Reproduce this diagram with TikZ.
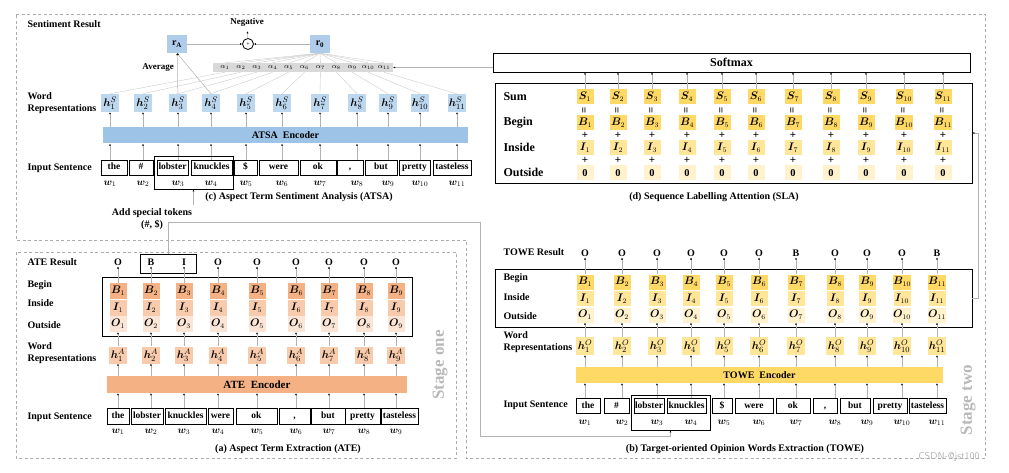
\documentclass[tikz,border=0pt]{standalone}
\usepackage{amsmath,amssymb}
\usepackage{bm}
\usepackage{fontspec}
\setmainfont{Liberation Serif}
\usepackage{tikz}
\usetikzlibrary{arrows.meta, positioning, calc}

\definecolor{atsablue}{HTML}{9DC3E6}
\definecolor{atsamid}{HTML}{AFCDEB}
\definecolor{atsalight}{HTML}{BDD7EE}
\definecolor{alphagray}{HTML}{D9D9D9}
\definecolor{ateB}{HTML}{F4B183}
\definecolor{ateI}{HTML}{F8CBAD}
\definecolor{ateO}{HTML}{FBE5D6}
\definecolor{towB}{HTML}{FFD966}
\definecolor{towI}{HTML}{FFE699}
\definecolor{towO}{HTML}{FFF2CC}

\begin{document}
\begin{tikzpicture}[x=1pt, y=-1pt,
  lbl/.style={anchor=west, align=left, font=\fontsize{10}{12}\selectfont\bfseries},
  captxt/.style={align=center, font=\fontsize{10}{12}\selectfont\bfseries},
  res/.style={inner sep=1pt, font=\fontsize{10}{11}\selectfont\bfseries},
  wordbox/.style={draw, thick, minimum height=15pt, inner sep=0pt, text height=7pt, text depth=2pt,
                  font=\fontsize{9.5}{10}\selectfont\bfseries},
  cell/.style={minimum width=17pt, minimum height=15pt, inner sep=0pt,
               font=\fontsize{10.5}{10.5}\selectfont},
  hcell/.style={minimum width=18pt, minimum height=18pt, inner sep=0pt,
                font=\fontsize{11}{11}\selectfont},
  encbar/.style={minimum height=16pt, inner sep=0pt,
                 font=\fontsize{10}{11}\selectfont\bfseries},
  boxline/.style={draw, thick, inner sep=0pt},
  opsign/.style={inner sep=0pt, font=\fontsize{11}{11}\selectfont\bfseries},
  stageline/.style={draw=gray!65, thick, dash pattern=on 3pt off 2.5pt},
  stagetxt/.style={rotate=90, text=gray!55, font=\fontsize{17}{17}\selectfont\bfseries},
  link/.style={draw=gray!40, line width=0.4pt},
  arr/.style={draw=gray!60, line width=0.5pt, -{Latex[length=2pt,width=2pt,black]}}
]
\useasboundingbox (0,0) rectangle (1009,473);

% stage frames
\draw[stageline] (16,14) -- (985,14) -- (985,458) -- (466,458) -- (466,240) -- (16,240) -- cycle;
\draw[stageline] (16,252) rectangle (456,458);
\node[stagetxt] (stageone) at (440,365) {Stage one};
\node[stagetxt] (stagetwo) at (968,400) {Stage two};

% (c) ATSA
\node[lbl] (sentres) at (24,24) {Sentiment Result};
\node[fill=atsamid, minimum width=20pt, minimum height=18pt, inner sep=0pt] (rA) at (177,44) {$\mathbf{r}_{\mathbf{A}}$};
\node[fill=atsamid, minimum width=20pt, minimum height=18pt, inner sep=0pt] (r0) at (320,44) {$\mathbf{r}_{\mathbf{0}}$};
\node[draw, thick, circle, inner sep=0pt, minimum size=11pt, font=\tiny\bfseries] (negc) at (248,44) {+};
\node[res, font=\fontsize{9}{10}\selectfont\bfseries] (negtxt) at (247,22) {Negative};
\draw[arr] (rA) -- (negc);
\draw[arr] (r0) -- (negc);
\draw[arr, shorten >=4pt] (negc) -- (negtxt);

\node[fill=alphagray, minimum width=180pt, minimum height=9pt, inner sep=0pt] (abar) at (303,67.5) {};
\foreach \i in {1,...,11}
  \node[inner sep=0pt, font=\fontsize{7.5}{8}\selectfont] (al\i) at ({225+15.9*(\i-1)},67.5) {$\alpha_{\i}$};

\foreach \x [count=\i] in {110,143,178,211,246,282,320,357,388,420,457} {
  \node[hcell, fill=atsalight] (hs\i) at (\x,103) {$\bm{h}^{S}_{\i}$};
  \draw[link] (r0.south) -- (al\i |- abar.north);
  \draw[link] (al\i |- abar.south) -- (hs\i.north);
}
\draw[arr] (hs3) -- (rA);
\draw[arr] (hs4.north) -- (rA.south);
\node[res, anchor=east, font=\fontsize{9}{10}\selectfont\bfseries] (avg) at (175,68) {Average};
\node[lbl] (wrs) at (24,103) {Word\\Representations};

\node[encbar, fill=atsablue, minimum width=365pt] (atsaenc) at (285.5,135.5) {ATSA\ \ Encoder};
\node[lbl] (inss) at (24,168) {Input Sentence};
\foreach \x/\c/\w/\t [count=\i] in {114/110/26/the, 141/143/24/{\#}, 172.5/178/31/lobster,
    211.5/211/41/knuckles, 245.5/246/23/{\$}, 278.5/282/39/were, 318/320/36/ok,
    350/357/26/{,}, 381/388/32/but, 414.5/420/31/pretty, 452/457/38/tasteless} {
  \node[wordbox, minimum width=\w pt] (ws\i) at (\x,167.5) {\t};
  \node[font=\fontsize{10}{10}\selectfont] (wsl\i) at (\c,184) {$\bm{w}_{\i}$};
  \draw[arr] (wsl\i |- ws\i.north) -- (wsl\i |- atsaenc.south);
  \draw[arr] (hs\i |- atsaenc.north) -- (hs\i.south);
}
\node[boxline, minimum width=79pt, minimum height=33pt] (asps) at (193.5,172.5) {};
\node[captxt] (capc) at (299,197) {(c) Aspect Term Sentiment Analysis (ATSA)};
\node[captxt] (addtok) at (152,219) {Add special tokens\\(\#, \$)};
\draw[arr] (asps.south |- addtok.north) -- (asps.south);

% (d) SLA
\node[boxline, minimum width=477pt, minimum height=19pt, font=\fontsize{12}{13}\selectfont\bfseries] (smax) at (731.5,62.5) {Softmax};
\draw[arr] (smax.west |- abar.east) -- (abar.east);
\node[boxline, minimum width=477pt, minimum height=100pt] (slabox) at (733.5,133) {};
\node[lbl, font=\fontsize{12}{13}\selectfont\bfseries] (slasum) at (500,97) {Sum};
\node[lbl, font=\fontsize{12}{13}\selectfont\bfseries] (slabeg) at (500,123) {Begin};
\node[lbl, font=\fontsize{12}{13}\selectfont\bfseries] (slains) at (500,147) {Inside};
\node[lbl, font=\fontsize{12}{13}\selectfont\bfseries] (slaout) at (500,172) {Outside};
\foreach \x [count=\i] in {585,618,652,687,722,756,793,831,866,904,943} {
  \node[cell, fill=towB] (slas\i) at (\x,97) {$\bm{S}_{\i}$};
  \node[opsign, rotate=90] (slae\i) at (\x,110) {=};
  \node[cell, fill=towB] (slab\i) at (\x,123) {$\bm{B}_{\i}$};
  \node[opsign] (slap\i) at (\x,135.5) {+};
  \node[cell, fill=towI] (slai\i) at (\x,148) {$\bm{I}_{\i}$};
  \node[opsign] (slaq\i) at (\x,160.5) {+};
  \node[cell, fill=towO] (slao\i) at (\x,173) {$\mathbf{0}$};
  \draw[arr] (slas\i.north) -- (slas\i |- smax.south);
}
\node[captxt] (capd) at (714,197) {(d) Sequence Labelling Attention (SLA)};

% (b) TOWE
\node[lbl] (towres) at (500,252) {TOWE Result};
\node[boxline, minimum width=477pt, minimum height=58pt] (towbox) at (733.5,298) {};
\node[lbl] (towbeg) at (500,278) {Begin};
\node[lbl] (towins) at (500,297) {Inside};
\node[lbl] (towout) at (500,316) {Outside};
\node[lbl] (towwr) at (500,342) {Word\\Representations};
\node[encbar, fill=towB, minimum width=367pt] (towenc) at (759.5,375) {TOWE\ \ Encoder};
\foreach \x/\r [count=\i] in {585/O,622/O,657/O,691/O,724/O,759/O,796/B,835/O,867/O,902/O,937/B} {
  \node[res] (towr\i) at (\x,253) {\r};
  \node[cell, fill=towB] (towb\i) at (\x,282) {$\bm{B}_{\i}$};
  \node[cell, fill=towI] (towi\i) at (\x,298.5) {$\bm{I}_{\i}$};
  \node[cell, fill=towO] (towo\i) at (\x,315) {$\bm{O}_{\i}$};
  \node[hcell, fill=towI] (towh\i) at (\x,346) {$\bm{h}^{O}_{\i}$};
  \draw[arr] (towb\i.north) -- (towr\i.south);
  \draw[arr] (towh\i.north) -- (towo\i.south);
  \draw[arr] (towh\i |- towenc.north) -- (towh\i.south);
}
\node[lbl] (towin) at (500,405.5) {Input Sentence};
\foreach \x/\w/\t [count=\i] in {588/24/the, 616.5/25/{\#}, 649/30/lobster, 686.5/39/knuckles,
    722/20/{\$}, 754/38/were, 793/34/ok, 825/24/{,}, 855/30/but, 890/34/pretty, 927.5/37/tasteless} {
  \node[wordbox, minimum width=\w pt] (tw\i) at (\x,405.5) {\t};
  \node[font=\fontsize{10}{10}\selectfont] (twl\i) at (towh\i |- 0,423) {$\bm{w}_{\i}$};
  \draw[arr] (twl\i |- tw\i.north) -- (twl\i |- towenc.south);
}
\node[boxline, minimum width=79pt, minimum height=35pt] (aspt) at (670.5,412.5) {};
\node[captxt] (capb) at (745,449) {(b) Target-oriented Opinion Words Extraction (TOWE)};

% (a) ATE
\node[lbl] (ateres) at (24,262) {ATE Result};
\node[boxline, minimum width=56pt, minimum height=19pt] (atebi) at (168,263.5) {};
\node[boxline, minimum width=310pt, minimum height=59pt] (atebox) at (257,306.5) {};
\node[lbl] (atebeg) at (24,285) {Begin};
\node[lbl] (ateins) at (24,303) {Inside};
\node[lbl] (ateout) at (24,325) {Outside};
\node[lbl] (atewr) at (24,353) {Word\\Representations};
\node[encbar, fill=ateB, minimum width=300pt, minimum height=17pt, font=\fontsize{11}{12}\selectfont\bfseries] (ateenc) at (257,384.5) {ATE\ \ Encoder};
\foreach \x/\r [count=\i] in {118/O,151/B,184/I,218/O,257/O,296/O,329/O,364/O,396/O} {
  \node[res] (ater\i) at (\x,262) {\r};
  \node[cell, fill=ateB, minimum height=16pt] (ateb\i) at (\x,291) {$\bm{B}_{\i}$};
  \node[cell, fill=ateI, minimum height=16pt] (atei\i) at (\x,307.5) {$\bm{I}_{\i}$};
  \node[cell, fill=ateO, minimum height=16pt] (ateo\i) at (\x,324) {$\bm{O}_{\i}$};
  \node[hcell, fill=ateI, minimum height=17pt] (ateh\i) at (\x,355) {$\bm{h}^{A}_{\i}$};
  \draw[arr] (ateb\i.north) -- (ater\i.south);
  \draw[arr] (ateh\i.north) -- (ateo\i.south);
  \draw[arr] (ateh\i |- ateenc.north) -- (ateh\i.south);
}
\node[lbl] (atein) at (24,417) {Input Sentence};
\foreach \x/\w/\t [count=\i] in {118/22/the, 147/32/lobster, 185.5/41/knuckles, 220.5/25/were,
    256.5/41/ok, 294.5/31/{,}, 328/34/but, 362.5/35/pretty, 399.5/37/tasteless} {
  \node[wordbox, minimum width=\w pt, minimum height=16pt] (aw\i) at (\x,416) {\t};
  \node[font=\fontsize{10}{10}\selectfont] (awl\i) at (ateh\i |- 0,432) {$\bm{w}_{\i}$};
  \draw[arr] (awl\i |- aw\i.north) -- (awl\i |- ateenc.south);
}
\node[captxt] (capa) at (288,449) {(a) Aspect Term Extraction (ATE)};

% connectors between tasks
\coordinate (bendA) at (480,222);
\coordinate (bendB) at (480,436);
\coordinate (bendC) at (978,0);
\draw[arr] (atebi.north) -- (atebi.north |- bendA) -- (bendA) -- (bendB) -- (bendB -| aspt.south) -- (aspt.south);
\draw[arr] (towbox.east) -- (towbox.east -| bendC) -- (slabox.east -| bendC) -- (slabox.east);

\node[text=gray!60, font=\sffamily\fontsize{10}{10}\selectfont] (wmark) at (949,457) {CSDN-@jst100};
\end{tikzpicture}
\end{document}
